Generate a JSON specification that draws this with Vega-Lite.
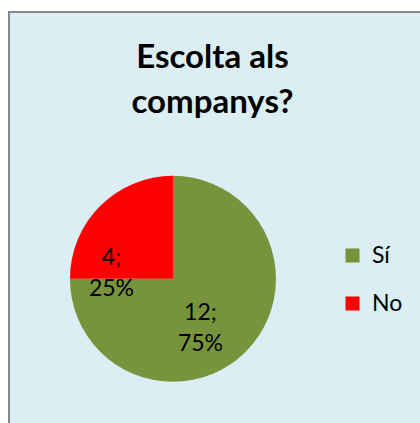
{
  "$schema": "https://vega.github.io/schema/vega-lite/v6.json",
  "autosize": {"type": "none"},
  "width": 413,
  "height": 413,
  "padding": {"left": 9, "top": 12, "right": 0, "bottom": 0},
  "background": "white",
  "view": {"fill": "#DAEEF3", "stroke": "#878787", "strokeWidth": 2},
  "config": {
    "font": "Lato"
  },
  "title": {
    "text": ["Escolta als", "companys?"],
    "font": "Lato",
    "fontSize": 33,
    "fontWeight": "bold",
    "color": "#000000",
    "anchor": "middle",
    "frame": "group",
    "orient": "top",
    "baseline": "top",
    "lineHeight": 45,
    "offset": -30,
    "dy": 78,
    "dx": -3
  },
  "data": {
    "values": [
      {"resposta": "Sí", "valor": 12, "etiqueta": "12;\n75%"},
      {"resposta": "No", "valor": 4, "etiqueta": "4;\n25%"}
    ]
  },
  "encoding": {
    "theta": {"field": "valor", "type": "quantitative", "stack": true},
    "order": {"field": "valor", "type": "quantitative", "sort": "descending"}
  },
  "layer": [
    {
      "mark": {"type": "arc", "outerRadius": 103, "x": {"expr": "width*0.397"}, "y": {"expr": "height*0.646"}},
      "encoding": {
        "color": {
          "field": "resposta",
          "type": "nominal",
          "scale": {"domain": ["Sí", "No"], "range": ["#77933C", "#FF0000"]},
          "legend": {
            "title": null,
            "orient": "none",
            "legendX": 332,
            "legendY": 232,
            "symbolType": "square",
            "symbolSize": 196,
            "symbolStrokeWidth": 0,
            "symbolOpacity": 1,
            "labelFont": "Lato",
            "labelFontSize": 23,
            "labelColor": "#000000",
            "labelOffset": 8,
            "rowPadding": 24,
            "padding": 0
          }
        }
      }
    },
    {
      "mark": {"type": "text", "radius": 53, "dx": -10, "dy": -3, "fontSize": 23, "font": "Lato", "lineBreak": "\n", "lineHeight": 31, "x": {"expr": "width*0.397"}, "y": {"expr": "height*0.646"}, "color": "#000000"},
      "encoding": {
        "text": {"condition": {"test": "datum.resposta === 'Sí'", "field": "etiqueta"}, "value": ""}
      }
    },
    {
      "mark": {"type": "text", "radius": 53, "dx": -24, "dy": 17, "fontSize": 23, "font": "Lato", "lineBreak": "\n", "lineHeight": 31, "x": {"expr": "width*0.397"}, "y": {"expr": "height*0.646"}, "color": "#000000"},
      "encoding": {
        "text": {"condition": {"test": "datum.resposta === 'No'", "field": "etiqueta"}, "value": ""}
      }
    }
  ]
}
